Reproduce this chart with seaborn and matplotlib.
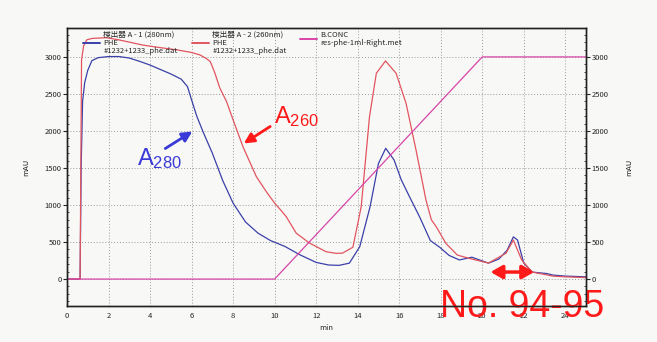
import numpy as np
import pandas as pd
import seaborn as sns
import matplotlib.pyplot as plt
from matplotlib.ticker import MultipleLocator

# 検出器 A-1 (280nm)
t_280 = [0, 0.6, 0.63, 0.68, 0.75, 0.85, 1.0, 1.2, 1.5, 2.0, 2.5, 3.0, 3.5, 4.0, 4.5,
         5.0, 5.5, 5.8, 6.0, 6.25, 6.55, 7.0, 7.5, 8.0, 8.6, 9.2, 9.8, 10.5, 11.2,
         12.0, 12.6, 13.1, 13.6, 14.1, 14.6, 15.0, 15.35, 15.75, 16.1, 16.5, 17.0,
         17.5, 17.95, 18.4, 18.9, 19.5, 20.3, 20.8, 21.2, 21.5, 21.7, 22.0, 22.4,
         22.9, 23.1, 23.4, 24.0, 25.0]
a_280 = [0, 0, 0, 1500, 2400, 2650, 2820, 2950, 2990, 3005, 3005, 2985, 2940, 2890, 2830,
         2770, 2700, 2600, 2420, 2200, 1990, 1700, 1330, 1025, 770, 620, 520, 440, 330,
         225, 190, 185, 215, 437, 980, 1560, 1766, 1610, 1340, 1110, 830,
         520, 430, 320, 258, 295, 215, 270, 390, 570, 527, 216, 95,
         80, 75, 54, 40, 30]

# 検出器 A-2 (260nm)
t_260 = [0, 0.6, 0.63, 0.7, 0.8, 0.95, 1.2, 1.9, 2.5, 3.0, 3.65, 4.5, 5.3, 6.0, 6.4,
         6.7, 6.9, 7.1, 7.36, 7.68, 8.0, 8.47, 9.12, 9.6, 10.0, 10.3, 10.56, 11.04,
         11.68, 12.48, 12.97, 13.27, 13.77, 14.17, 14.57, 14.9, 15.34, 15.85, 16.33,
         16.81, 17.29, 17.55, 17.8, 18.25, 18.8, 19.5, 20.3, 21.15, 21.5, 21.9, 22.4,
         23.4, 24.0, 25.0]
a_260 = [0, 0, 0, 2960, 3150, 3230, 3250, 3260, 3230, 3200, 3160, 3125, 3095, 3060, 3027,
         2980, 2937, 2800, 2580, 2400, 2150, 1790, 1383, 1180, 1025, 930, 842, 620,
         486, 369, 347, 350, 430, 977, 2193, 2780, 2946, 2780, 2374,
         1743, 1068, 800, 700, 482, 324, 270, 216, 350, 527, 257, 95,
         40, 30, 20]

# B.CONC
t_conc = [0, 10, 20, 25]
b_conc = [0, 0, 3000, 3000]

x_ticks = list(range(0, 25, 2))
y_ticks = list(range(0, 3001, 500))

df280 = pd.DataFrame({"min": t_280, "mAU": a_280})
df260 = pd.DataFrame({"min": t_260, "mAU": a_260})
dfconc = pd.DataFrame({"min": t_conc, "mAU": b_conc})

sns.set_style("white")
plt.rcParams['font.family'] = ['Noto Sans CJK JP', 'DejaVu Sans']
plt.rcParams['mathtext.default'] = 'regular'

bg = '#f8f8f6'
fig = plt.figure(figsize=(6.57, 3.42), dpi=100, facecolor=bg)
ax = fig.add_axes([0.102, 0.105, 0.79, 0.813])
ax.set_facecolor(bg)

c_blue = '#3b40a8'
c_red = '#e2555f'
c_mag = '#d845a8'

sns.lineplot(data=df280, x="min", y="mAU", ax=ax, color=c_blue, lw=0.9, sort=False)
sns.lineplot(data=df260, x="min", y="mAU", ax=ax, color=c_red, lw=0.9, sort=False)
sns.lineplot(data=dfconc, x="min", y="mAU", ax=ax, color=c_mag, lw=0.9, sort=False)

ax.set_xlim(0, 25)
ax.set_ylim(-365, 3390)
ax.set_xticks(x_ticks)
ax.set_yticks(y_ticks)
ax.xaxis.set_minor_locator(MultipleLocator(0.5))
ax.yaxis.set_minor_locator(MultipleLocator(100))
ax.grid(True, which='major', color='#9a9a9a', ls=(0, (1, 2)), lw=0.7)
for s in ax.spines.values():
    s.set_color('#222222')
    s.set_linewidth(1.0)
ax.tick_params(axis='x', which='major', direction='in', length=3, labelsize=5.5, pad=4)
ax.tick_params(axis='x', which='minor', direction='in', length=1.5)
ax.tick_params(axis='y', which='major', direction='out', length=3, labelsize=5.5, pad=1)
ax.tick_params(axis='y', which='minor', direction='in', length=1.5)
ax.set_xlabel("min", fontsize=5.5, labelpad=3)
ax.set_ylabel("mAU", fontsize=5.5, labelpad=10)

ax2 = ax.twinx()
ax2.set_ylim(ax.get_ylim())
ax2.set_yticks(y_ticks)
ax2.yaxis.set_minor_locator(MultipleLocator(100))
ax2.tick_params(axis='y', which='major', direction='out', length=3, labelsize=5.5, pad=1)
ax2.tick_params(axis='y', which='minor', direction='in', length=1.5)
ax2.set_ylabel("mAU", fontsize=5.5, labelpad=12)
for s in ax2.spines.values():
    s.set_color('#222222')
    s.set_linewidth(1.0)

# legends (one per entry so each can sit where the original has it)
entries = [
    (c_blue, "検出器 A - 1 (280nm)\nPHE\n#1232+1233_phe.dat", 0.020),
    (c_red, "検出器 A - 2 (260nm)\nPHE\n#1232+1233_phe.dat", 0.230),
    (c_mag, "B.CONC\nres-phe-1ml-Right.met", 0.438),
]
for col, lab, xpos in entries:
    h, = ax2.plot([], [], color=col, lw=1.4)
    leg = ax2.legend([h], [lab], loc='upper left', bbox_to_anchor=(xpos, 1.01),
                     frameon=False, fontsize=5.5, handlelength=2.2, handletextpad=0.5,
                     borderpad=0.2, labelspacing=0.1)
    for t in leg.get_texts():
        t.set_linespacing(1.05)
    ax2.add_artist(leg)
ax2.legend_ = None

# annotations
ax.annotate("", xy=(6.15, 2013), xytext=(4.62, 1743),
            arrowprops=dict(arrowstyle='-|>,head_length=0.6,head_width=0.3',
                            color='#3a3ad8', lw=2))
ax.text(3.35, 1540, r"A$_{280}$", color='#3a3ad8', fontsize=17,
        family='Liberation Sans', ha='left', va='baseline')
ax.annotate("", xy=(8.4, 1811), xytext=(9.9, 2081),
            arrowprops=dict(arrowstyle='-|>,head_length=0.6,head_width=0.3',
                            color='#ff1a1a', lw=2))
ax.text(9.95, 2108, r"A$_{260}$", color='#ff1a1a', fontsize=17,
        family='Liberation Sans', ha='left', va='baseline')
ax.annotate("", xy=(22.5, 95), xytext=(20.4, 95),
            arrowprops=dict(arrowstyle='<|-|>,head_length=0.7,head_width=0.4',
                            color='#ff1a1a', lw=2.5, shrinkA=0, shrinkB=0))
ax.text(17.98, -513, "No. 94-95", color='#ff1a1a', fontsize=27,
        family='Liberation Sans', ha='left', va='baseline', clip_on=False)

fig.savefig("out.png", dpi=100, facecolor=bg)
